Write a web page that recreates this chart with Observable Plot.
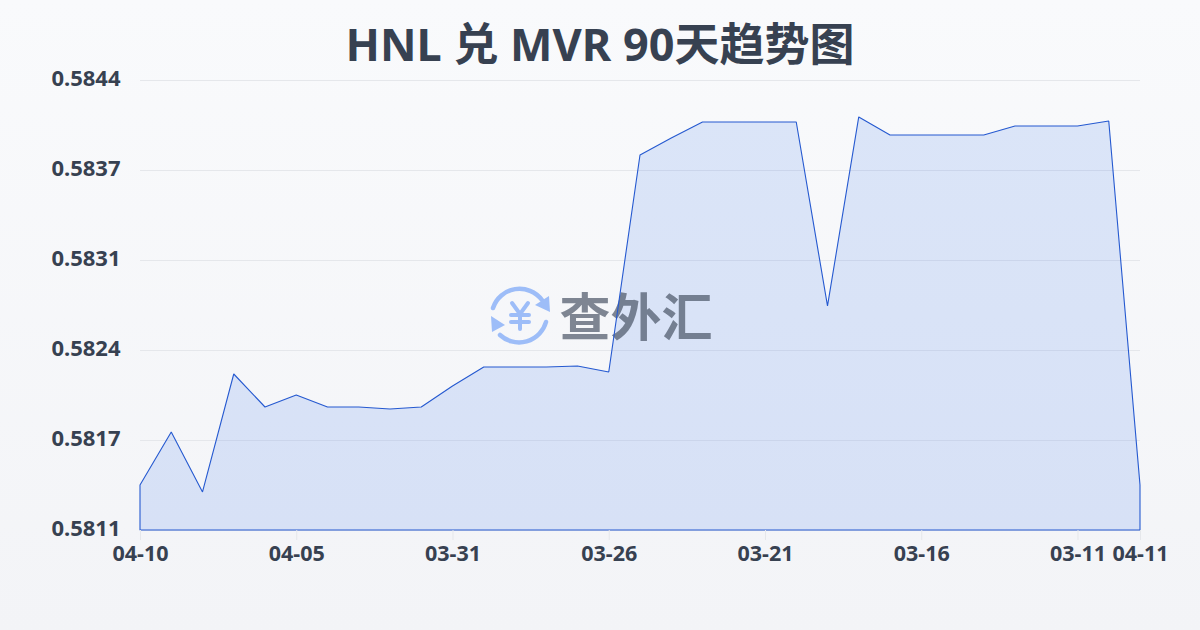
<!DOCTYPE html>
<html>
<head>
<meta charset="utf-8">
<script src="https://cdn.jsdelivr.net/npm/d3@7"></script>
<script src="https://cdn.jsdelivr.net/npm/@observablehq/plot@0.6"></script>
<style>
html,body{margin:0;padding:0;width:1200px;height:630px;overflow:hidden;
  background:linear-gradient(180deg,#f9fafc 0%,#f3f4f7 100%);}
#wrap{position:relative;width:1200px;height:630px;}
#title{position:absolute;left:0;top:0;width:1200px;z-index:3;height:80px;margin:0;padding:0;text-align:center;font:700 45px/88px "Noto Sans","Noto Sans CJK SC",sans-serif;color:#374151;}
#chart{position:absolute;left:0;top:0;z-index:2;}
#chart svg{background:transparent;display:block;}
#mark{position:absolute;left:0;top:0;z-index:1;width:1200px;height:630px;}
</style>
</head>
<body>
<div id="wrap">
  <h1 id="title">HNL 兑 MVR 90天趋势图</h1>
  <svg id="mark" viewBox="0 0 1200 630" fill="none" stroke="#9dbdf8" stroke-linecap="round" stroke-linejoin="round">
    <path d="M493 308A28 28 0 0 1 542 300" stroke-width="4.5"/>
    <path d="M550 312L549 296L535 305Z" fill="#9dbdf8" stroke="none"/>
    <path d="M546 322A28 28 0 0 1 500 335" stroke-width="4.5"/>
    <path d="M491 316L492 332L505 325Z" fill="#9dbdf8" stroke="none"/>
    <path d="M512 303L520 314L528 303M520 314V329M511 315H529M511 322H529" stroke-width="4"/>
  </svg>
  <div id="chart"></div>
</div>
<script>
const dates = ["04-10","04-09","04-08","04-07","04-06","04-05","04-04","04-03","04-02","04-01","03-31","03-30","03-29","03-28","03-27","03-26","03-25","03-24","03-23","03-22","03-21","03-20","03-19","03-18","03-17","03-16","03-15","03-14","03-13","03-12","03-11","03-10","04-11"];
const rates = [0.58141,0.581799,0.581359,0.582224,0.581982,0.58207,0.581982,0.581982,0.581967,0.581982,0.582136,0.582275,0.582275,0.582275,0.582283,0.582239,0.58383,0.583955,0.584072,0.584072,0.584072,0.584072,0.582723,0.584109,0.583977,0.583977,0.583977,0.583977,0.584043,0.584043,0.584043,0.584079,0.58141];
const yTicks = [0.58108,0.58174,0.5824,0.58306,0.58372,0.58438];
const xTicks = ["04-10","04-05","03-31","03-26","03-21","03-16","03-11","04-11"];
const baseline = 0.58108;
const watermark = ["查外汇"];

const font = '"Noto Sans","Noto Sans CJK SC",sans-serif';
const table = dates.map((d, i) => ({d, r: rates[i]}));
const plot = Plot.plot({
  width: 1200,
  height: 630,
  marginLeft: 140,
  marginRight: 60,
  marginTop: 80,
  marginBottom: 100,
  style: {background: "transparent", fontFamily: font},
  x: {type: "point", domain: dates, padding: 0, round: false, label: null},
  y: {domain: [yTicks[0], yTicks[yTicks.length - 1]], label: null},
  marks: [
    Plot.gridY(yTicks, {stroke: "#e5e7eb", strokeOpacity: 1, strokeWidth: 1}),
    Plot.areaY(table, {x: "d", y1: () => baseline, y2: "r", fill: "#3572ec", fillOpacity: 0.15}),
    Plot.text(watermark, {frameAnchor: "top-left", dx: 419, dy: 239, textAnchor: "start", lineAnchor: "middle",
      fontFamily: '"Noto Sans CJK SC",sans-serif', fontSize: 51, fontWeight: 700, fill: "#3f4a5c", fillOpacity: 0.66}),
    Plot.areaY(table, {x: "d", y1: () => baseline, y2: "r", fill: "none", stroke: "#2559d0", strokeWidth: 1.1, strokeLinejoin: "miter"}),
    Plot.axisY({ticks: yTicks, tickSize: 0, tickPadding: 20, dy: -1.5, tickFormat: d3.format(".4f"),
      fontSize: 22, fontWeight: 700, fill: "#374151", label: null}),
    Plot.axisX({ticks: xTicks, tickSize: 10, tickPadding: 5, stroke: "#e5e7eb",
      fontSize: 21.5, fontWeight: 700, fill: "#374151", label: null})
  ]
});
document.getElementById("chart").appendChild(plot);
</script>
</body>
</html>
